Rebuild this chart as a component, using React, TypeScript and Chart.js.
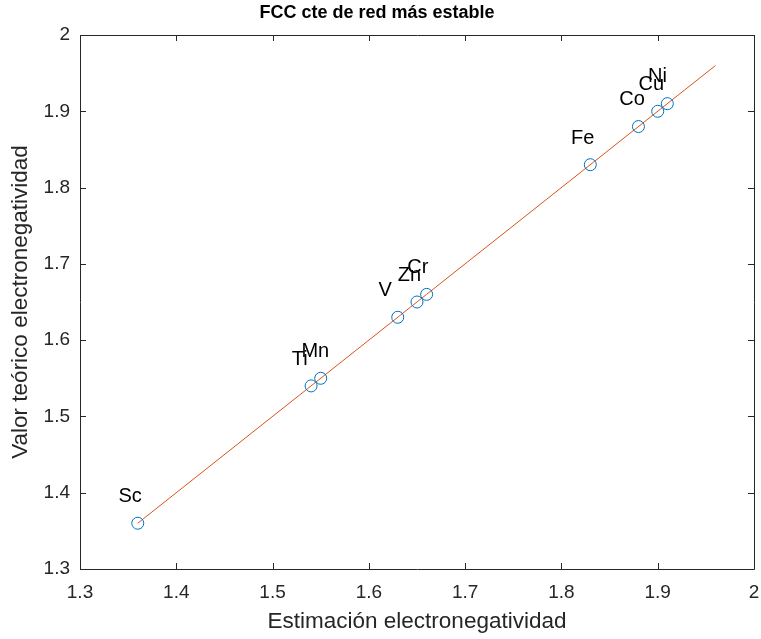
import React, { useEffect, useRef } from "react";
import { Chart, registerables } from "chart.js";

Chart.register(...registerables);

const elements = ["Sc", "Ti", "Mn", "V", "Zn", "Cr", "Fe", "Co", "Cu", "Ni"];
const estimated = [1.36, 1.54, 1.55, 1.63, 1.65, 1.66, 1.83, 1.88, 1.9, 1.91];
const theoretical = [1.36, 1.54, 1.55, 1.63, 1.65, 1.66, 1.83, 1.88, 1.9, 1.91];
const fitX = [1.36, 1.96];
const fitY = [1.36, 1.96];
const xTicks = [1.3, 1.4, 1.5, 1.6, 1.7, 1.8, 1.9, 2];
const yTicks = [1.3, 1.4, 1.5, 1.6, 1.7, 1.8, 1.9, 2];

const FONT = "'Liberation Sans', Arial, Helvetica, sans-serif";
const AXIS = "#262626";

const fmt = (v: number) => (Math.abs(v - Math.round(v)) < 1e-9 ? String(Math.round(v)) : v.toFixed(1));

const boxPlugin = {
  id: "matlabBox",
  afterDatasetsDraw(chart: any) {
    const { ctx, chartArea: a, scales } = chart;
    const xs = scales.x;
    const ys = scales.y;
    ctx.save();
    ctx.strokeStyle = AXIS;
    ctx.lineWidth = 1;
    ctx.beginPath();
    ctx.rect(Math.round(a.left) + 0.5, Math.round(a.top) + 0.5, Math.round(a.right - a.left), Math.round(a.bottom - a.top));
    ctx.stroke();
    const tl = 6;
    ctx.beginPath();
    xTicks.forEach((t) => {
      const px = Math.round(xs.getPixelForValue(t)) + 0.5;
      ctx.moveTo(px, a.bottom);
      ctx.lineTo(px, a.bottom - tl);
      ctx.moveTo(px, a.top);
      ctx.lineTo(px, a.top + tl);
    });
    yTicks.forEach((t) => {
      const py = Math.round(ys.getPixelForValue(t)) + 0.5;
      ctx.moveTo(a.left, py);
      ctx.lineTo(a.left + tl, py);
      ctx.moveTo(a.right, py);
      ctx.lineTo(a.right - tl, py);
    });
    ctx.stroke();
    // element labels
    ctx.fillStyle = "#000000";
    ctx.font = `20px ${FONT}`;
    ctx.textAlign = "left";
    ctx.textBaseline = "middle";
    elements.forEach((name, i) => {
      const px = xs.getPixelForValue(estimated[i] - 0.02);
      const py = ys.getPixelForValue(theoretical[i] + 0.035);
      ctx.fillText(name, px, py);
    });
    ctx.restore();
  },
};

export default function App() {
  const ref = useRef<HTMLCanvasElement | null>(null);
  useEffect(() => {
    document.body.style.margin = "0";
    const canvas = ref.current;
    if (!canvas) return;
    const chart = new Chart(canvas, {
      type: "scatter",
      data: {
        datasets: [
          {
            type: "line",
            label: "fit",
            data: fitX.map((x, i) => ({ x, y: fitY[i] })),
            borderColor: "#D95319",
            borderWidth: 1,
            pointRadius: 0,
            fill: false,
            order: 2,
          } as any,
          {
            label: "datos",
            data: estimated.map((x, i) => ({ x, y: theoretical[i] })),
            borderColor: "#0072BD",
            backgroundColor: "rgba(0,0,0,0)",
            pointRadius: 6,
            pointBorderWidth: 1,
            pointStyle: "circle",
            order: 1,
          },
        ],
      },
      plugins: [boxPlugin],
      options: {
        responsive: false,
        animation: false,
        events: [],
        layout: { padding: { left: 0, right: 7, top: 0, bottom: 0 } },
        plugins: {
          legend: { display: false },
          tooltip: { enabled: false },
          title: {
            display: true,
            text: "FCC cte de red más estable",
            color: "#000000",
            font: { family: FONT, size: 18, weight: "bold", lineHeight: 1.2 },
            padding: { top: 2, bottom: 11.4 },
          },
        },
        scales: {
          x: {
            type: "linear",
            min: 1.3,
            max: 2,
            afterBuildTicks: (s: any) => {
              s.ticks = xTicks.map((v) => ({ value: v }));
            },
            afterFit: (s: any) => {
              s.height = 70;
              s.paddingLeft = 0;
              s.paddingRight = 0;
            },
            grid: { display: false, drawTicks: false },
            border: { display: false },
            ticks: {
              color: AXIS,
              font: { family: FONT, size: 19 },
              padding: 12,
              maxRotation: 0,
              callback: (v: any) => fmt(Number(v)),
            },
            title: {
              display: true,
              text: "Estimación electronegatividad",
              color: AXIS,
              font: { family: FONT, size: 22.5, lineHeight: 1.2 },
              padding: { top: 0, bottom: 4 },
            },
          },
          y: {
            type: "linear",
            min: 1.3,
            max: 2,
            afterBuildTicks: (s: any) => {
              s.ticks = yTicks.map((v) => ({ value: v }));
            },
            afterFit: (s: any) => {
              s.width = 80;
              s.paddingTop = 0;
              s.paddingBottom = 0;
            },
            grid: { display: false, drawTicks: false },
            border: { display: false },
            ticks: {
              color: AXIS,
              font: { family: FONT, size: 19 },
              padding: 10,
              callback: (v: any) => fmt(Number(v)),
            },
            title: {
              display: true,
              text: "Valor teórico electronegatividad",
              color: AXIS,
              font: { family: FONT, size: 22.5, lineHeight: 1.2 },
              padding: { top: 7, bottom: 0 },
            },
          },
        },
      },
    });
    return () => chart.destroy();
  }, []);
  return (
    <div style={{ width: 761, height: 639, background: "#ffffff" }}>
      <canvas ref={ref} width={761} height={639} style={{ display: "block" }} />
    </div>
  );
}
